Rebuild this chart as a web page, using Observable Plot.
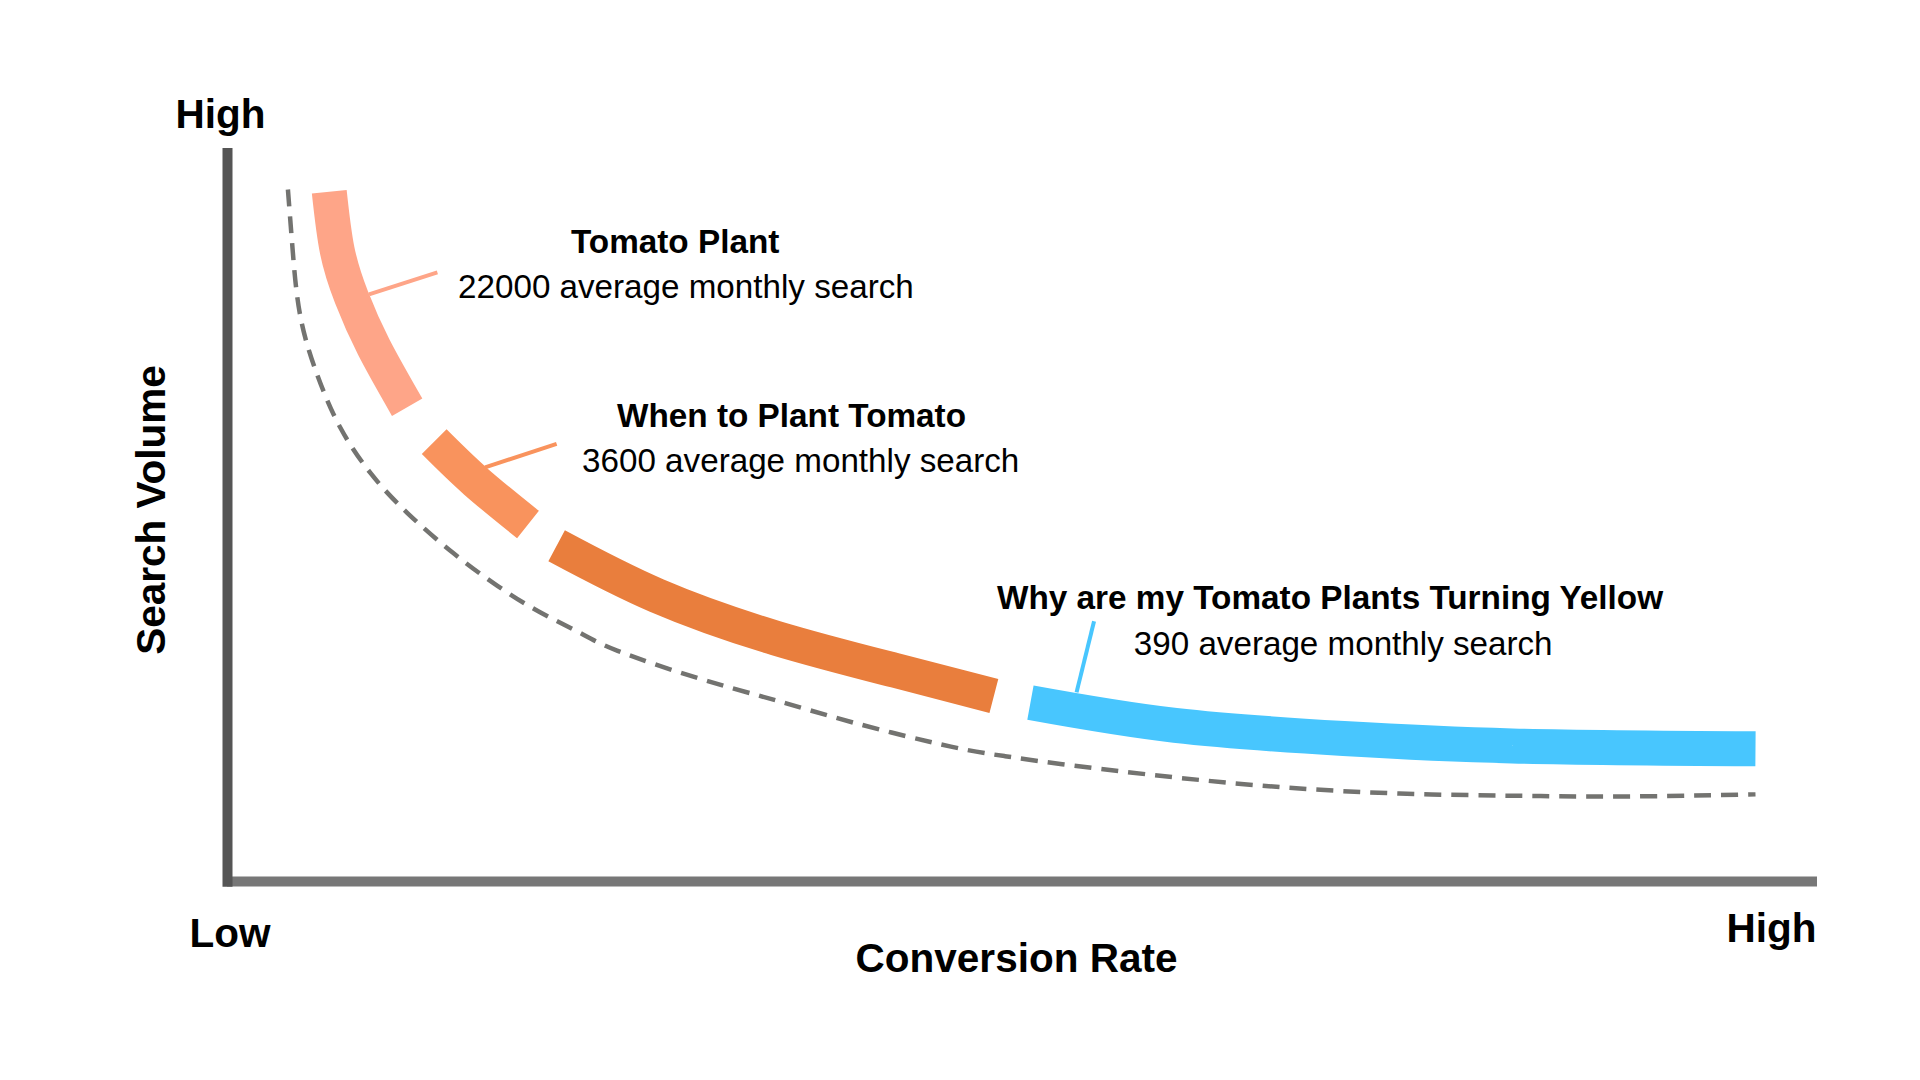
<!DOCTYPE html>
<html>
<head>
<meta charset="utf-8">
<script src="https://cdn.jsdelivr.net/npm/d3@7"></script>
<script src="https://cdn.jsdelivr.net/npm/@observablehq/plot@0.6"></script>
<style>
  html, body { margin: 0; padding: 0; background: #ffffff; }
  #chart svg { display: block; }
</style>
</head>
<body>
<div id="chart"></div>
<script>
// Conceptual long-tail curve (conversion rate 0–100, search volume 0–100)
const trendConversion = [3.8, 4.1, 4.6, 5.7, 7.1, 9.0, 11.3, 14.2, 17.0, 19.6, 22.1, 24.5, 29.5, 34.5, 39.5, 45.5, 48.9, 52.5, 59.6, 66.7, 73.7, 80.8, 87.8, 96.1];
const trendVolume     = [94.4, 86.1, 76.9, 68.8, 61.9, 55.7, 50.3, 44.8, 40.3, 36.8, 34.0, 31.5, 27.8, 24.7, 21.6, 18.4, 17.1, 16.0, 14.2, 12.8, 12.0, 11.7, 11.6, 11.9];

// Keyword band (centre line of each coloured piece)
const segmentNames  = ["Tomato Plant", "When to Plant Tomato", "Mid tail", "Why are my Tomato Plants Turning Yellow"];
const segmentColors = ["#FEA588", "#F9935D", "#E97E3D", "#48C6FE"];
const bandSegment    = [0, 0, 0, 0, 0, 1, 1, 1, 2, 2, 2, 2, 2, 3, 3, 3, 3, 3];
const bandConversion = [6.4, 6.9, 7.8, 9.2, 11.3, 13.0, 15.6, 18.9, 20.7, 27.0, 34.5, 42.0, 48.2, 50.5, 59.6, 70.2, 80.8, 96.1];
const bandVolume     = [94.1, 86.1, 79.7, 72.9, 64.7, 60.0, 54.6, 48.7, 45.8, 39.0, 33.2, 28.8, 25.3, 24.4, 21.3, 19.5, 18.5, 18.1];

// Keywords and their average monthly searches
const keywordNames    = ["Tomato Plant", "When to Plant Tomato", "Why are my Tomato Plants Turning Yellow"];
const keywordSearches = [22000, 3600, 390];
const keywordSegment  = [0, 1, 3];

// Annotation anchors (chart units)
const titleX  = [21.6, 24.5, 48.4];
const titleY  = [85.8, 62.0, 37.2];
const detailX = [14.5, 22.3, 57.0];
const detailY = [79.6, 55.8, 30.9];
const leaderX1 = [8.9, 16.2, 53.4];
const leaderY1 = [80.1, 56.5, 25.8];
const leaderX2 = [13.2, 20.7, 54.5];
const leaderY2 = [83.1, 59.7, 35.5];

// Axis wording
const yAxisLabel = "Search Volume";
const xAxisLabel = "Conversion Rate";
const lowLabel = "Low";
const highLabel = "High";

const trend = trendConversion.map((x, i) => ({x, y: trendVolume[i]}));
const band = bandConversion.map((x, i) => ({x, y: bandVolume[i], segment: segmentNames[bandSegment[i]]}));
const keywords = keywordNames.map((name, i) => ({
  name,
  detail: `${keywordSearches[i]} average monthly search`,
  segment: segmentNames[keywordSegment[i]],
  tx: titleX[i], ty: titleY[i],
  dx: detailX[i], dy: detailY[i],
  x1: leaderX1[i], y1: leaderY1[i], x2: leaderX2[i], y2: leaderY2[i]
}));

const font = "'Liberation Sans', Arial, Helvetica, sans-serif";

const chart = Plot.plot({
  width: 1920,
  height: 1080,
  marginLeft: 227,
  marginRight: 103,
  marginTop: 148,
  marginBottom: 199,
  style: {fontFamily: font, background: "#ffffff", overflow: "visible"},
  x: {domain: [0, 100], axis: null},
  y: {domain: [0, 100], axis: null},
  color: {domain: segmentNames, range: segmentColors},
  marks: [
    // axes
    Plot.ruleY([0], {x1: 0, x2: 100, stroke: "#777777", strokeWidth: 10}),
    Plot.ruleX([0], {y1: -0.8, y2: 100, stroke: "#555555", strokeWidth: 10}),
    // dashed trend
    Plot.line(trend, {x: "x", y: "y", curve: "natural", stroke: "#737370", strokeWidth: 4.5, strokeDasharray: "17,10", strokeLinecap: "butt"}),
    // keyword band
    Plot.line(band, {x: "x", y: "y", z: "segment", stroke: "segment", curve: "natural", strokeWidth: 35, strokeLinecap: "butt", strokeLinejoin: "miter"}),
    // leader lines
    Plot.link(keywords, {x1: "x1", y1: "y1", x2: "x2", y2: "y2", stroke: "segment", strokeWidth: 4}),
    // keyword titles and details
    Plot.text(keywords, {x: "tx", y: "ty", text: "name", textAnchor: "start", lineAnchor: "bottom", fontSize: 33.3, fontWeight: "bold", fill: "#000"}),
    Plot.text(keywords, {x: "dx", y: "dy", text: "detail", textAnchor: "start", lineAnchor: "bottom", fontSize: 33.2, fill: "#000"}),
    // axis wording
    Plot.text([highLabel], {frameAnchor: "top-left", dx: -7, dy: -21, textAnchor: "middle", lineAnchor: "bottom", fontSize: 40.5, fontWeight: "bold", fill: "#000"}),
    Plot.text([yAxisLabel], {frameAnchor: "left", dx: -63, dy: -5, rotate: -90, textAnchor: "middle", lineAnchor: "bottom", fontSize: 40.5, fontWeight: "bold", fill: "#000"}),
    Plot.text([lowLabel], {frameAnchor: "bottom-left", dx: -38, dy: 65, textAnchor: "start", lineAnchor: "bottom", fontSize: 40.5, fontWeight: "bold", fill: "#000"}),
    Plot.text([highLabel], {frameAnchor: "bottom-right", dx: -1, dy: 60, textAnchor: "end", lineAnchor: "bottom", fontSize: 40.5, fontWeight: "bold", fill: "#000"}),
    Plot.text([xAxisLabel], {frameAnchor: "bottom", dx: -6, dy: 90, textAnchor: "middle", lineAnchor: "bottom", fontSize: 40.5, fontWeight: "bold", fill: "#000"})
  ]
});

document.getElementById("chart").appendChild(chart);
</script>
</body>
</html>
